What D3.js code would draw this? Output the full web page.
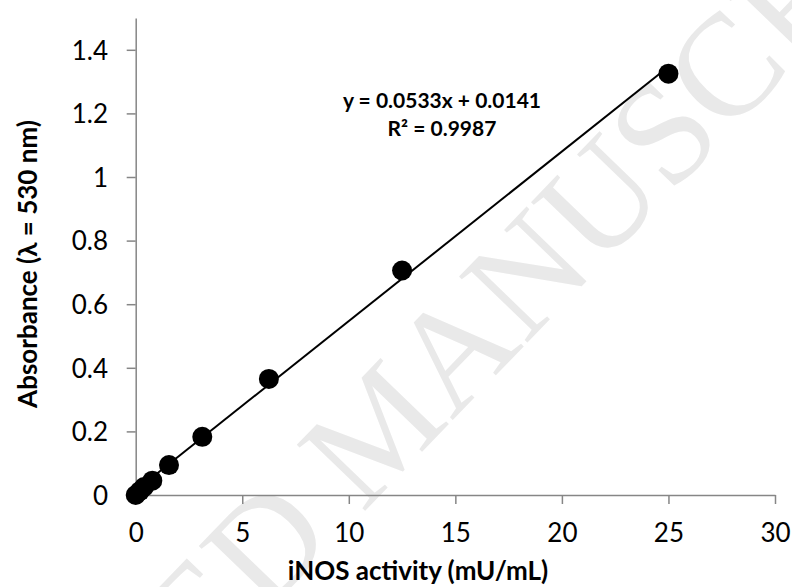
<!DOCTYPE html>
<html><head><meta charset="utf-8">
<script src="https://cdn.jsdelivr.net/npm/d3@7"></script>
<style>body{margin:0;background:#fff;} svg{display:block;}</style>
</head><body>
<svg id="c" width="792" height="587"></svg>
<script>
const activity = [0, 0.195, 0.39, 0.78, 1.5625, 3.125, 6.25, 12.5, 25];
const absorbance = [0, 0.012, 0.025, 0.045, 0.094, 0.183, 0.365, 0.706, 1.325];
const xTicks = [0, 5, 10, 15, 20, 25, 30];
const yTicks = [0, 0.2, 0.4, 0.6, 0.8, 1, 1.2, 1.4];
const slope = 0.0533, intercept = 0.0141;
const eqLines = ["y = 0.0533x + 0.0141", "R² = 0.9987"];
const xTitle = "iNOS activity (mU/mL)";
const yTitle = "Absorbance (λ = 530 nm)";
const watermark = "ACCEPTED MANUSCRIPT";

const font = "Lato, 'Open Sans', sans-serif";
const svg = d3.select("#c");
const x = d3.scaleLinear().domain([0, 30]).range([135.7, 775]);
const y = d3.scaleLinear().domain([0, 1.5]).range([495, 18]);

// watermark
svg.append("text")
  .attr("transform", "translate(414,460) rotate(-46)")
  .attr("text-anchor", "middle")
  .attr("font-family", "'Liberation Serif', serif")
  .attr("font-size", 145)
  .attr("fill", "#e9e9e9")
  .text(watermark);

// axes
const axisColor = "#868686";
const gx = svg.append("g").attr("transform", `translate(0,${y(0)})`)
  .call(d3.axisBottom(x).tickValues(xTicks).tickSize(9).tickSizeOuter(0).tickFormat(d3.format("d")));
const gy = svg.append("g").attr("transform", `translate(${x(0)},0)`)
  .call(d3.axisLeft(y).tickValues(yTicks).tickSize(9).tickSizeOuter(0).tickFormat(d => String(+d.toFixed(1))));
[gx, gy].forEach(g => {
  g.select(".domain").attr("stroke", axisColor).attr("stroke-width", 1.5);
  g.selectAll(".tick line").attr("stroke", axisColor).attr("stroke-width", 1.5);
  g.selectAll(".tick text").attr("fill", "#000").attr("font-family", font).attr("font-size", 26);
});
gx.selectAll(".tick text").attr("y", 47).attr("dy", null);
gy.selectAll(".tick text").attr("x", -27.7).attr("dy", "0.36em");

// trendline
svg.append("line")
  .attr("x1", x(0)).attr("y1", y(intercept))
  .attr("x2", x(25)).attr("y2", y(slope * 25 + intercept))
  .attr("stroke", "#000").attr("stroke-width", 2);

// points
svg.append("g").selectAll("circle").data(activity).join("circle")
  .attr("cx", d => x(d)).attr("cy", (d, i) => y(absorbance[i]))
  .attr("r", 10).attr("fill", "#000");

// equation
svg.append("g").selectAll("text").data(eqLines).join("text")
  .attr("x", 442).attr("y", (d, i) => 108 + i * 28)
  .attr("text-anchor", "middle").attr("font-family", font)
  .attr("font-weight", "bold").attr("font-size", 21).text(d => d);

// axis titles
svg.append("text").attr("x", 418).attr("y", 580)
  .attr("text-anchor", "middle").attr("font-family", font)
  .attr("font-weight", "bold").attr("font-size", 26).text(xTitle);
svg.append("text").attr("transform", "translate(37,264) rotate(-90)")
  .attr("text-anchor", "middle").attr("font-family", font)
  .attr("font-weight", "bold").attr("font-size", 26).text(yTitle);
</script>
</body></html>
